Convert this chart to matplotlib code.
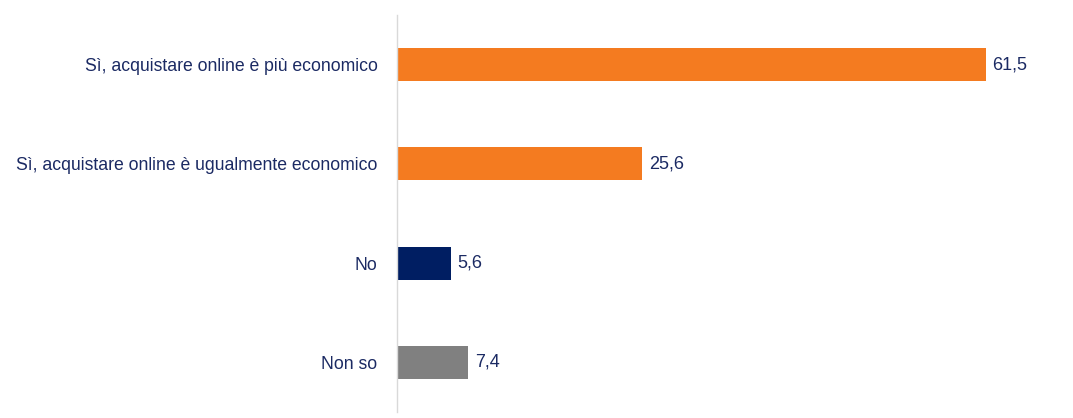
import matplotlib
matplotlib.use("Agg")
import matplotlib.pyplot as plt

categories = [
    "Sì, acquistare online è più economico",
    "Sì, acquistare online è ugualmente economico",
    "No",
    "Non so",
]
values = [61.5, 25.6, 5.6, 7.4]
colors = ["#F47B20", "#F47B20", "#001E62", "#808080"]

family = "Liberation Sans"
text_color = "#1B2A63"

fig = plt.figure(figsize=(10.73, 4.18), dpi=100)
ax = fig.add_axes([397 / 1073, 1 - 412 / 418, (1067 - 397) / 1073, (412 - 15) / 418])

ypos = list(range(len(categories)))
ax.barh(ypos, values, height=0.33, color=colors)
ax.set_ylim(len(categories) - 0.5, -0.5)
ax.set_xlim(0, 70)

ax.set_yticks(ypos)
ax.set_yticklabels(categories, fontsize=12.7, color=text_color, family=family)
ax.tick_params(axis="y", length=0, pad=14)
ax.set_xticks([])

for s in ["top", "right", "bottom"]:
    ax.spines[s].set_visible(False)
ax.spines["left"].set_color("#D9D9D9")
ax.spines["left"].set_linewidth(1)

for y, v in zip(ypos, values):
    ax.annotate(f"{v:.1f}".replace(".", ","), xy=(v, y), xytext=(5, 0),
                textcoords="offset points", va="center", ha="left",
                fontsize=13, color=text_color, family=family)

fig.savefig("out.png", dpi=100)
